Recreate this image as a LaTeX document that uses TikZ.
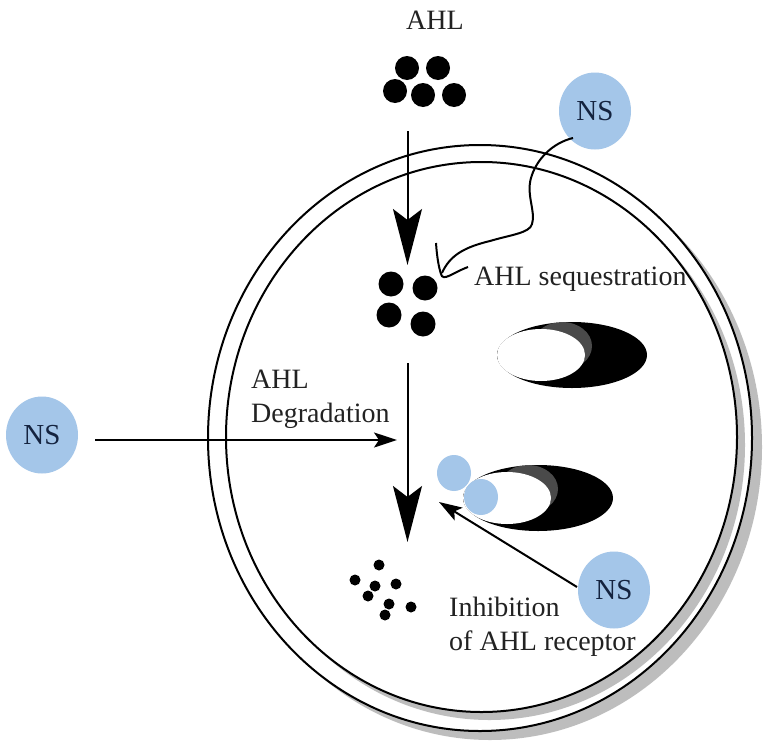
\documentclass[tikz,border=0pt]{standalone}
\usepackage{fontspec}
\setmainfont{Liberation Serif}
\usetikzlibrary{arrows.meta,shapes.geometric}
\definecolor{nsblue}{HTML}{A4C6E9}
\definecolor{shadowgrey}{HTML}{BDBDBD}
\definecolor{crescent}{HTML}{4A4A4A}
\definecolor{txt}{HTML}{222222}
\definecolor{nstxt}{HTML}{14233F}
\tikzset{
  x=1pt,y=-1pt,
  lab/.style={font=\fontsize{28}{34}\selectfont,text=txt,inner sep=0pt,align=left,anchor=west},
  ns/.style={ellipse,fill=nsblue,minimum width=72pt,minimum height=77pt,inner sep=0pt,font=\fontsize{29}{30}\selectfont,text=nstxt},
  bl/.style={ellipse,fill=nsblue,minimum width=34pt,minimum height=36pt,inner sep=0pt},
  big/.style={circle,fill=black,minimum size=24pt,inner sep=0pt},
  med/.style={circle,fill=black,minimum size=25pt,inner sep=0pt},
  sm/.style={circle,fill=black,minimum size=11pt,inner sep=0pt},
  wall/.style={draw=black,line width=2pt,fill=white},
  conn/.style={line width=2pt,draw=black},
  bighead/.style={conn,-{Stealth[length=56pt,width=29pt,inset=11pt]}},
  smallhead/.style={conn,-{Stealth[length=23pt,width=15pt,inset=5pt]}},
}
\newcommand{\receptor}[2]{%
  \begin{scope}[shift={(#1,#2)}]
    \begin{scope}
      \clip (0,0) ellipse [x radius=75pt,y radius=33pt];
      \fill[black] (-80,-40) rectangle (80,40);
      \fill[crescent] (-10,-9) ellipse [x radius=30pt,y radius=24pt];
    \end{scope}
    \fill[white] (-31,0) ellipse [x radius=44pt,y radius=26pt];
  \end{scope}%
}
\begin{document}
\begin{tikzpicture}
\useasboundingbox (0,0) rectangle (768,747);
\fill[white] (0,0) rectangle (768,747);
% cell
\fill[shadowgrey] (490,447) ellipse [x radius=272pt,y radius=293pt];
\draw[wall] (480,438) ellipse [x radius=272pt,y radius=293pt];
\fill[shadowgrey] (489.5,445) ellipse [x radius=255.5pt,y radius=275pt];
\draw[wall] (481.5,437) ellipse [x radius=255.5pt,y radius=275pt];
% receptors
\receptor{572}{355}
\receptor{538}{498}
% dots
\node[big] (a1) at (407,68) {};
\node[big] (a2) at (438,68) {};
\node[big] (a3) at (395,91) {};
\node[big] (a4) at (423,95) {};
\node[big] (a5) at (454,95) {};
\node[med] (b1) at (391,284) {};
\node[med] (b2) at (425,288) {};
\node[med] (b3) at (389,315) {};
\node[med] (b4) at (423,324) {};
\node[sm] (c1) at (379,565) {};
\node[sm] (c2) at (355,580) {};
\node[sm] (c3) at (375,586) {};
\node[sm] (c4) at (396,584) {};
\node[sm] (c5) at (368,596) {};
\node[sm] (c6) at (389,604) {};
\node[sm] (c7) at (411,607) {};
\node[sm] (c8) at (385,615) {};
% NS
\node[ns] (nsT) at (595,111) {NS};
\node[ns] (nsL) at (42,435) {NS};
\node[ns] (nsB) at (614,590) {NS};
\node[bl] (r1) at (454,473) {};
\node[bl] (r2) at (481,497) {};
% labels
\node[lab,anchor=center] (tAHL) at (435,20) {AHL};
\node[lab] (tSeq) at (474,279) {AHL sequestration};
\node[lab] (tDeg) at (251,399) {AHL\\Degradation};
\node[lab] (tInh) at (449,626.5) {Inhibition\\of AHL receptor};
% arrows
\coordinate (p1) at (407.5,131);
\coordinate (p2) at (407.5,265);
\coordinate (p3) at (407.5,363);
\coordinate (p4) at (407.5,542);
\coordinate (p5) at (95,440);
\coordinate (p6) at (397,440);
\coordinate (p7) at (577,587);
\coordinate (p8) at (439,502);
\coordinate (s0) at (573,138);
\coordinate (s1) at (442,273);
\coordinate (h0) at (436,243);
\coordinate (h1) at (468,267);
\draw[bighead] (p1) -- (p2);
\draw[bighead] (p3) -- (p4);
\draw[smallhead] (p5) -- (p6);
\draw[smallhead] (p7) -- (p8);
\draw[conn] (s0) .. controls (552,143) and (536,160) .. (531,178)
  .. controls (526,195) and (536,212) .. (532,224)
  .. controls (530,233) and (510,235) .. (490,241)
  .. controls (465,247) and (450,255) .. (s1);
\draw[conn] (h0) .. controls (437,258) and (439,268) .. (441,274)
  .. controls (443,282) and (452,273) .. (h1);
\end{tikzpicture}
\end{document}
